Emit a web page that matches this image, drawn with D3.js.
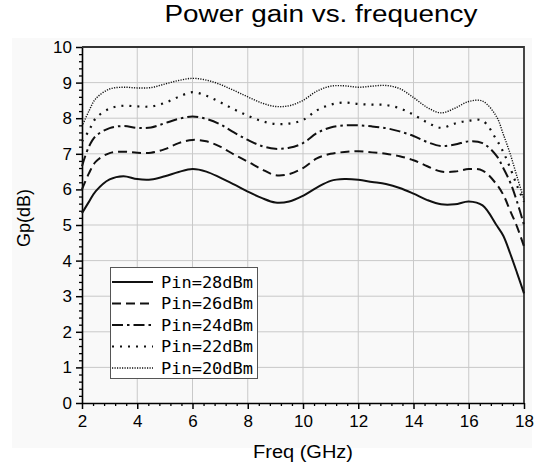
<!DOCTYPE html>
<html>
<head>
<meta charset="utf-8">
<script src="https://cdn.jsdelivr.net/npm/d3@7"></script>
<style>
  body { margin: 0; background: #fff; }
  svg { display: block; font-family: "Liberation Sans", Arial, sans-serif; }
</style>
</head>
<body>
<div id="chart"></div>
<script>
const width = 542;
const height = 468;

// frequency points (GHz)
const freq = [2, 2.25, 2.5, 3, 3.5, 4, 4.5, 5, 5.5, 6, 6.5, 7, 7.5, 8, 8.5, 9, 9.5, 10,
  10.5, 11, 11.5, 12, 12.5, 13, 13.5, 14, 14.5, 15, 15.5, 16, 16.5, 17, 17.25, 17.5, 17.75, 18];

// power gain (dB) per input power
const gain28 = [5.33, 5.65, 5.95, 6.28, 6.37, 6.29, 6.28, 6.37, 6.49, 6.57, 6.5, 6.33, 6.14, 5.94, 5.76, 5.63, 5.66, 5.82,
  6.05, 6.24, 6.29, 6.27, 6.21, 6.15, 6.04, 5.88, 5.7, 5.58, 5.58, 5.66, 5.55, 5.0, 4.7, 4.2, 3.65, 3.08];
const gain26 = [6.0, 6.45, 6.78, 7.02, 7.06, 7.03, 7.03, 7.13, 7.3, 7.39, 7.35, 7.2, 6.98, 6.78, 6.57, 6.4, 6.43, 6.6,
  6.87, 7.0, 7.05, 7.07, 7.04, 7.0, 6.93, 6.82, 6.65, 6.5, 6.5, 6.57, 6.53, 6.15, 5.85, 5.4, 4.95, 4.4];
const gain24 = [6.65, 7.2, 7.5, 7.72, 7.78, 7.73, 7.74, 7.86, 7.98, 8.05, 7.98, 7.83, 7.6, 7.39, 7.22, 7.14, 7.17, 7.3,
  7.58, 7.74, 7.8, 7.8, 7.77, 7.72, 7.63, 7.5, 7.33, 7.22, 7.26, 7.35, 7.3, 6.95, 6.6, 6.2, 5.65, 5.0];
const gain22 = [7.35, 7.65, 8.0, 8.27, 8.35, 8.33, 8.33, 8.43, 8.6, 8.73, 8.63, 8.45, 8.25, 8.07, 7.92, 7.84, 7.85, 7.95,
  8.22, 8.38, 8.44, 8.4, 8.38, 8.37, 8.28, 8.1, 7.88, 7.73, 7.85, 7.93, 7.93, 7.4, 7.05, 6.6, 6.1, 5.65];
const gain20 = [7.77, 8.2, 8.55, 8.82, 8.87, 8.85, 8.86, 8.96, 9.06, 9.12, 9.07, 8.95, 8.78, 8.6, 8.43, 8.33, 8.35, 8.5,
  8.76, 8.9, 8.91, 8.87, 8.9, 8.92, 8.83, 8.58, 8.3, 8.15, 8.28, 8.47, 8.48, 8.05, 7.55, 7.0, 6.35, 5.72];

const seriesNames = ['Pin=28dBm', 'Pin=26dBm', 'Pin=24dBm', 'Pin=22dBm', 'Pin=20dBm'];
const seriesData = [gain28, gain26, gain24, gain22, gain20];

const xTicks = [2, 4, 6, 8, 10, 12, 14, 16, 18];
const yTicks = [0, 1, 2, 3, 4, 5, 6, 7, 8, 9, 10];

const styles = [
  { dash: null, w: 2 },
  { dash: '9,5', w: 2 },
  { dash: '11,4,2.5,4', w: 2 },
  { dash: '2,6', w: 2.2 },
  { dash: '1.2,1.3', w: 1.4 }
];

const margin = { left: 82, right: 18, top: 47, bottom: 65 };

const x = d3.scaleLinear().domain([2, 18]).range([margin.left, width - margin.right]);
const y = d3.scaleLinear().domain([0, 10]).range([height - margin.bottom, margin.top]);

const svg = d3.select('#chart').append('svg')
  .attr('width', width)
  .attr('height', height);

// faint background panel
svg.append('rect')
  .attr('x', 12).attr('y', 38)
  .attr('width', 520).attr('height', 410)
  .attr('fill', '#f9f9f9');

// grid
svg.append('g')
  .selectAll('line')
  .data(xTicks.slice(1, -1))
  .join('line')
  .attr('x1', d => x(d)).attr('x2', d => x(d))
  .attr('y1', y(0)).attr('y2', y(10))
  .attr('stroke', '#c9c9c9').attr('stroke-width', 1);

svg.append('g')
  .selectAll('line')
  .data(yTicks.slice(1, -1))
  .join('line')
  .attr('x1', x(2)).attr('x2', x(18))
  .attr('y1', d => y(d)).attr('y2', d => y(d))
  .attr('stroke', '#c9c9c9').attr('stroke-width', 1);

// minor ticks
const xMinor = d3.range(2, 18.001, 0.4).filter(v => Math.abs(v / 2 - Math.round(v / 2)) > 0.01);
const yMinor = d3.range(0, 10.001, 0.2).filter(v => Math.abs(v - Math.round(v)) > 0.01);

svg.append('g')
  .attr('transform', `translate(0,${y(0)})`)
  .call(d3.axisBottom(x).tickValues(xMinor).tickSize(3).tickFormat(''))
  .call(g => g.select('.domain').remove())
  .selectAll('line').attr('stroke', '#000').attr('stroke-width', 1.3);

svg.append('g')
  .attr('transform', `translate(${x(2)},0)`)
  .call(d3.axisLeft(y).tickValues(yMinor).tickSize(3).tickFormat(''))
  .call(g => g.select('.domain').remove())
  .selectAll('line').attr('stroke', '#000').attr('stroke-width', 1.3);

// major axes
const xAxis = svg.append('g')
  .attr('transform', `translate(0,${y(0)})`)
  .call(d3.axisBottom(x).tickValues(xTicks).tickSize(6).tickSizeOuter(0).tickPadding(6));

const yAxis = svg.append('g')
  .attr('transform', `translate(${x(2)},0)`)
  .call(d3.axisLeft(y).tickValues(yTicks).tickSize(6).tickSizeOuter(0).tickPadding(4));

[xAxis, yAxis].forEach(a => {
  a.select('.domain').attr('stroke', '#000').attr('stroke-width', 1.6);
  a.selectAll('.tick line').attr('stroke', '#000').attr('stroke-width', 1.5);
  a.selectAll('.tick text')
    .attr('fill', '#000')
    .style('font-family', '"Liberation Sans", Arial, sans-serif')
    .style('font-size', '17px');
});

// top and right frame
svg.append('path')
  .attr('d', `M${x(2)},${y(10)}H${x(18)}V${y(0)}`)
  .attr('fill', 'none')
  .attr('stroke', '#333')
  .attr('stroke-width', 1.8);

// curves
const line = d3.line()
  .x((d, i) => x(freq[i]))
  .y(d => y(d))
  .curve(d3.curveCatmullRom.alpha(0.5));

svg.append('g')
  .selectAll('path')
  .data(seriesData)
  .join('path')
  .attr('d', d => line(d))
  .attr('fill', 'none')
  .attr('stroke', '#111')
  .attr('stroke-width', (d, i) => styles[i].w)
  .attr('stroke-dasharray', (d, i) => styles[i].dash);

// legend
const legend = svg.append('g');

legend.append('rect')
  .attr('x', 110.5).attr('y', 267.5)
  .attr('width', 147).attr('height', 111)
  .attr('fill', '#fff')
  .attr('stroke', '#555')
  .attr('stroke-width', 1);

seriesNames.forEach((name, i) => {
  const row = legend.append('g')
    .attr('transform', `translate(0, ${282 + i * 21.5})`);

  row.append('line')
    .attr('x1', 112).attr('x2', 153)
    .attr('y1', 0).attr('y2', 0)
    .attr('stroke', '#111')
    .attr('stroke-width', styles[i].w)
    .attr('stroke-dasharray', styles[i].dash);

  row.append('text')
    .attr('x', 161)
    .attr('y', 0)
    .attr('dy', '0.36em')
    .style('font-family', '"DejaVu Sans Mono", "Liberation Mono", monospace')
    .style('font-size', '16px')
    .attr('textLength', 92)
    .attr('lengthAdjust', 'spacingAndGlyphs')
    .text(name);
});

// title and axis labels
svg.append('text')
  .attr('x', 321)
  .attr('y', 22)
  .attr('text-anchor', 'middle')
  .style('font-size', '23px')
  .attr('textLength', 313)
  .attr('lengthAdjust', 'spacingAndGlyphs')
  .text('Power gain vs. frequency');

svg.append('text')
  .attr('x', 303)
  .attr('y', 458)
  .attr('text-anchor', 'middle')
  .style('font-size', '18px')
  .attr('textLength', 100)
  .attr('lengthAdjust', 'spacingAndGlyphs')
  .text('Freq (GHz)');

svg.append('text')
  .attr('transform', 'translate(30, 218) rotate(-90)')
  .attr('text-anchor', 'middle')
  .style('font-size', '18px')
  .text('Gp(dB)');
</script>
</body>
</html>
